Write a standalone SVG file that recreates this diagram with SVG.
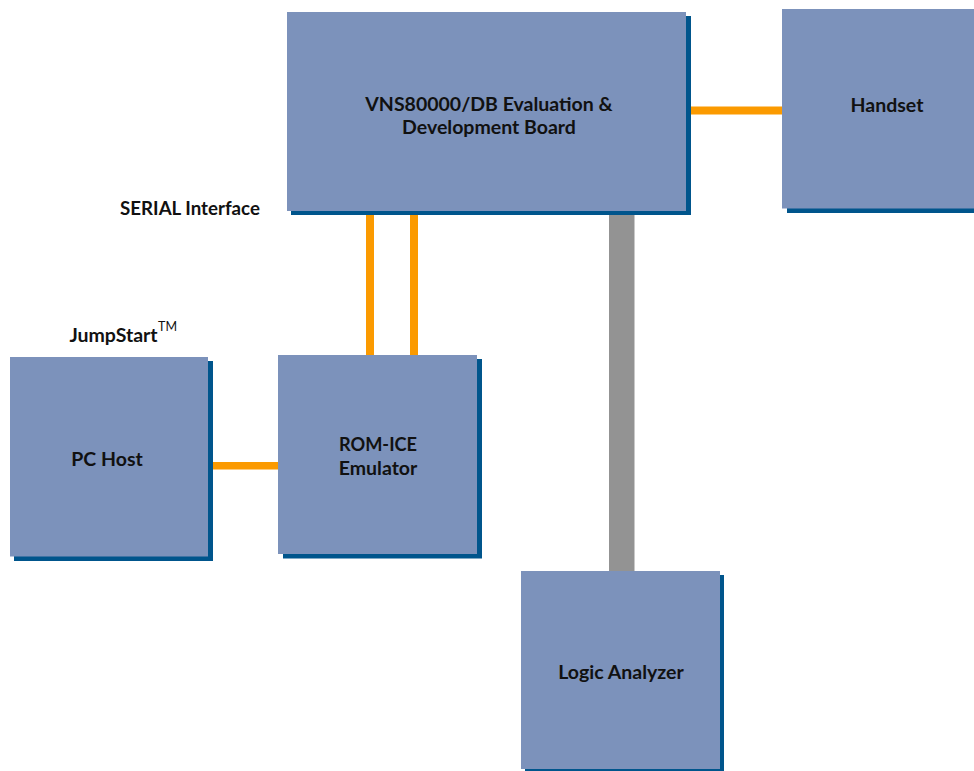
<svg xmlns="http://www.w3.org/2000/svg" width="974" height="771" viewBox="0 0 974 771">
<style>
.box{fill:#7c92bb}.sh{fill:#00558c}
.or{fill:#fb9a00}.gr{fill:#939393}
text{font-family:"Lato","Liberation Sans",sans-serif;font-size:19.5px;font-weight:700;fill:#111;text-anchor:middle}
text.rom{font-size:18.2px}
text.ser{font-size:18.7px}
text.tm{font-size:12.5px;font-weight:400}
</style>
<rect width="974" height="771" fill="#fff"/>
<g id="connectors">
<rect class="or" x="691" y="106.5" width="91" height="8"/>
<rect class="or" x="366" y="214" width="8" height="141"/>
<rect class="or" x="410" y="214" width="8" height="141"/>
<rect class="or" x="213" y="462" width="65" height="7.5"/>
<rect class="gr" x="609" y="214" width="25.5" height="357"/>
</g>
<g id="board"><rect class="sh" x="291" y="16" width="400" height="199"/><rect class="box" x="287" y="12" width="399" height="199"/>
<text x="489" y="111">VNS80000/DB Evaluation &amp;</text><text x="489" y="134">Development Board</text></g>
<g id="handset"><rect class="sh" x="787" y="14" width="187" height="199"/><rect class="box" x="782" y="9" width="192" height="199.5"/>
<text x="887" y="112">Handset</text></g>
<g id="pchost"><rect class="sh" x="14" y="361" width="199" height="200"/><rect class="box" x="10" y="357" width="198" height="199.5"/>
<text x="107" y="466">PC Host</text></g>
<g id="romice"><rect class="sh" x="283" y="359" width="199" height="199.5"/><rect class="box" x="278" y="355" width="199" height="199"/>
<text class="rom" x="378" y="451">ROM-ICE</text><text x="378" y="475">Emulator</text></g>
<g id="logic"><rect class="sh" x="525" y="575" width="199" height="196"/><rect class="box" x="521" y="571" width="199" height="198"/>
<text x="621" y="679">Logic Analyzer</text></g>
<text class="ser" x="190" y="215">SERIAL Interface</text>
<text x="113.5" y="342">JumpStart</text>
<text class="tm" x="167.5" y="331">TM</text>
</svg>
